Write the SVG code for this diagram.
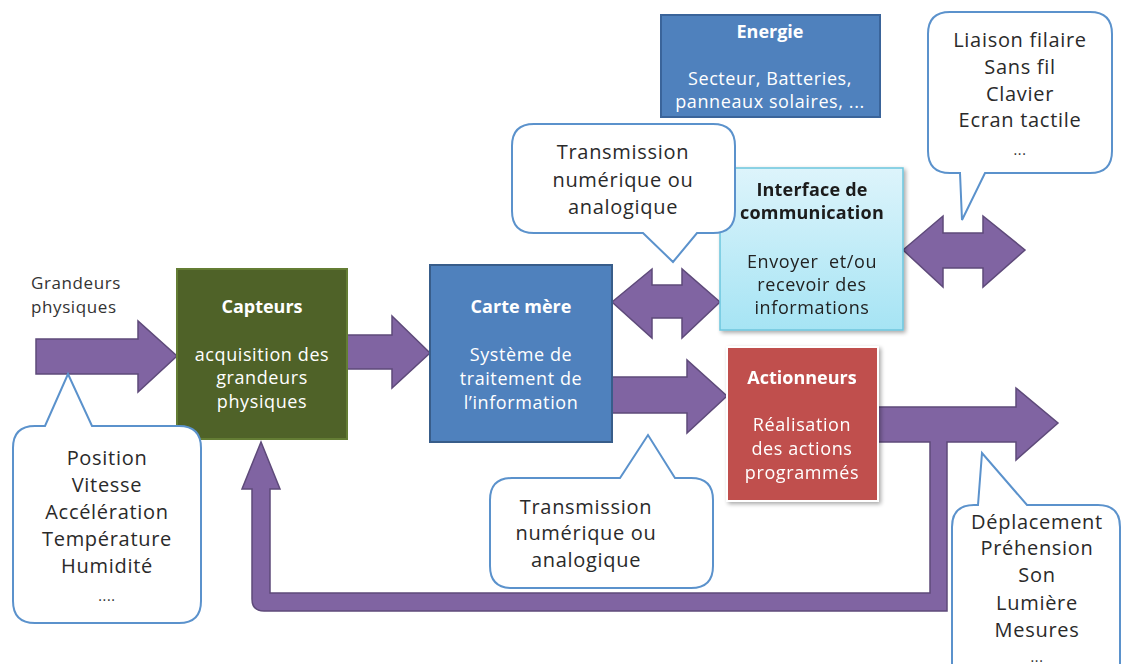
<svg xmlns="http://www.w3.org/2000/svg" width="1127" height="664" viewBox="0 0 1127 664">
<defs>
<linearGradient id="gInt" x1="0" y1="0" x2="0" y2="1">
<stop offset="0" stop-color="#DDF4FB"/>
<stop offset="1" stop-color="#A6E4F4"/>
</linearGradient>
<filter id="sh" x="-10%" y="-10%" width="130%" height="130%">
<feGaussianBlur in="SourceAlpha" stdDeviation="2"/>
<feOffset dx="2" dy="2" result="b"/>
<feComponentTransfer><feFuncA type="linear" slope="0.35"/></feComponentTransfer>
<feMerge><feMergeNode/><feMergeNode in="SourceGraphic"/></feMerge>
</filter>
</defs>
<style>
text{font-family:"Open Sans","Liberation Sans",sans-serif;text-anchor:middle}
.arr{fill:#8064A2;stroke:#5E4A7A;stroke-width:1.5;stroke-linejoin:miter}
.bub{fill:#fff;stroke:#5B92CC;stroke-width:2}
.bt{font-size:20px;fill:#2a2a2a;letter-spacing:0.7px}
.wh{font-size:18px;fill:#fff;font-weight:bold}
.wt{font-size:18px;fill:#fff;letter-spacing:0.6px}
.dh{font-size:18px;fill:#1a1a1a;font-weight:bold;letter-spacing:0.2px}
.dt{font-size:18px;fill:#222;letter-spacing:0.6px}
.lbl{font-size:17px;fill:#333;text-anchor:start;letter-spacing:0.6px}
</style>
<rect width="1127" height="664" fill="#fff"/>

<g id="connectors">
<path class="arr" d="M36 339 H138 V321 L177 356 L138 392 V374 H36 Z"/>
<path class="arr" d="M347 335 H392 V316 L430 353 L392 388 V369 H347 Z"/>
<path class="arr" d="M612 377 H687 V360 L727 396 L687 433 V413 H612 Z"/>
<path class="arr" d="M612 302 L652 269 V285 H682 V269 L720 302 L682 338 V318 H652 V338 Z"/>
<path class="arr" d="M903 250 L943 216 V233 H983 V216 L1025 250 L983 287 V268 H943 V287 Z"/>
<path class="arr" d="M878 407 H1016 V388 L1058 423 L1016 460 V442 H947 V611 H264 Q252 611 252 599 V489 H242 L261 442 L280 489 H270 V593 H930 V442 H878 Z"/>
</g>

<g id="energie">
<rect x="661" y="15" width="219" height="102" fill="#4F81BD" stroke="#3A649A" stroke-width="2"/>
<text class="wh" x="770" y="38">Energie</text>
<text class="wt" x="770" y="85">Secteur, Batteries,</text>
<text class="wt" x="770" y="108">panneaux solaires, ...</text>
</g>

<g id="capteurs">
<rect x="177" y="269" width="170" height="170" fill="#4F6228" stroke="#647D34" stroke-width="2"/>
<text class="wh" x="262" y="313">Capteurs</text>
<text class="wt" x="262" y="361">acquisition des</text>
<text class="wt" x="262" y="384">grandeurs</text>
<text class="wt" x="262" y="408">physiques</text>
</g>

<g id="carte">
<rect x="430" y="265" width="182" height="177" fill="#4F81BD" stroke="#385D8A" stroke-width="2"/>
<text class="wh" x="521" y="313">Carte mère</text>
<text class="wt" x="521" y="361">Système de</text>
<text class="wt" x="521" y="385">traitement de</text>
<text class="wt" x="521" y="409">l’information</text>
</g>

<g id="interface" filter="url(#sh)">
<rect x="720" y="168" width="183" height="162" fill="url(#gInt)" stroke="#6CC6DE" stroke-width="1.5"/>
<text class="dh" x="812" y="196">Interface de</text>
<text class="dh" x="812" y="219">communication</text>
<text class="dt" x="812" y="268" xml:space="preserve">Envoyer  et/ou</text>
<text class="dt" x="812" y="291">recevoir des</text>
<text class="dt" x="812" y="314">informations</text>
</g>

<g id="actionneurs" filter="url(#sh)">
<rect x="727" y="347" width="151" height="154" fill="#C0504D" stroke="#fff" stroke-width="2"/>
<text class="wh" x="802" y="384">Actionneurs</text>
<text class="wt" x="802" y="431">Réalisation</text>
<text class="wt" x="802" y="455">des actions</text>
<text class="wt" x="802" y="479">programmés</text>
</g>

<g id="label-grandeurs">
<text class="lbl" x="31" y="289">Grandeurs</text>
<text class="lbl" x="31" y="313">physiques</text>
</g>

<g id="bubble-trans-top">
<path class="bub" d="M534 124 H713 Q735 124 735 146 V211 Q735 233 713 233 H697 L673 262 L643 233 H534 Q512 233 512 211 V146 Q512 124 534 124 Z"/>
<text class="bt" x="623" y="159">Transmission</text>
<text class="bt" x="623" y="187">numérique ou</text>
<text class="bt" x="623" y="214">analogique</text>
</g>

<g id="bubble-liaison">
<path class="bub" d="M950 12 H1090 Q1112 12 1112 34 V151 Q1112 173 1090 173 H985 L962 220 L960 173 H950 Q928 173 928 151 V34 Q928 12 950 12 Z"/>
<text class="bt" x="1020" y="47">Liaison filaire</text>
<text class="bt" x="1020" y="74">Sans fil</text>
<text class="bt" x="1020" y="101">Clavier</text>
<text class="bt" x="1020" y="127">Ecran tactile</text>
<text class="bt" x="1020" y="155" style="font-size:14px">...</text>
</g>

<g id="bubble-grandeurs">
<path class="bub" d="M35 426 H45 L68 374 L92 426 H179 Q201 426 201 448 V601 Q201 623 179 623 H35 Q13 623 13 601 V448 Q13 426 35 426 Z"/>
<text class="bt" x="107" y="465">Position</text>
<text class="bt" x="107" y="492">Vitesse</text>
<text class="bt" x="107" y="519">Accélération</text>
<text class="bt" x="107" y="546">Température</text>
<text class="bt" x="107" y="573">Humidité</text>
<text class="bt" x="107" y="601" style="font-size:14px">....</text>
</g>

<g id="bubble-trans-bottom">
<path class="bub" d="M512 478 H620 L648 435 L675 478 H691 Q713 478 713 500 V566 Q713 588 691 588 H512 Q490 588 490 566 V500 Q490 478 512 478 Z"/>
<text class="bt" x="586" y="514">Transmission</text>
<text class="bt" x="586" y="540">numérique ou</text>
<text class="bt" x="586" y="567">analogique</text>
</g>

<g id="bubble-sorties">
<path class="bub" d="M974 505 H978 L982 453 L1027 505 H1098 Q1120 505 1120 527 V700 H952 V527 Q952 505 974 505 Z"/>
<text class="bt" x="1037" y="529">Déplacement</text>
<text class="bt" x="1037" y="555">Préhension</text>
<text class="bt" x="1037" y="582">Son</text>
<text class="bt" x="1037" y="610">Lumière</text>
<text class="bt" x="1037" y="637">Mesures</text>
<text class="bt" x="1037" y="662" style="font-size:14px">...</text>
</g>
</svg>
